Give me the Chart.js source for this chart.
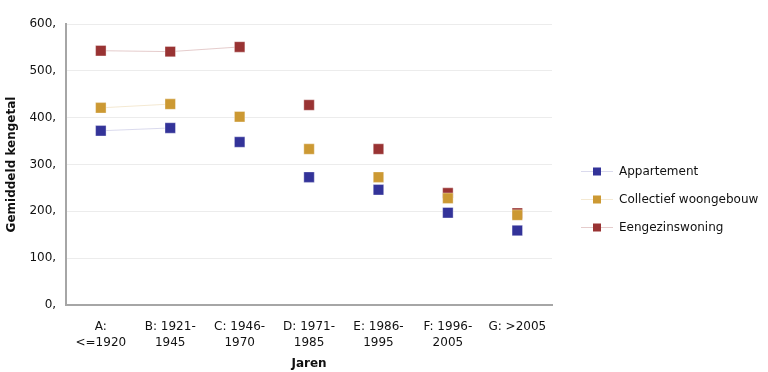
<!DOCTYPE html>
<html>
<head>
  <meta charset="UTF-8">
  <title>Gemiddeld kengetal per bouwperiode</title>
  <script src="https://cdn.jsdelivr.net/npm/chart.js"></script>
  <style>
    body { margin: 0; background: #fff; }
  </style>
</head>
<body>
  <canvas id="kengetalChart" width="768" height="372"></canvas>

  <script>
    // bouwperiodes
    const categories = [
      ['A:', '<=1920'], ['B: 1921-', '1945'], ['C: 1946-', '1970'],
      ['D: 1971-', '1985'], ['E: 1986-', '1995'], ['F: 1996-', '2005'], ['G: >2005']
    ];
    const appartement = [372, 378, 348, 273, 246, 197, 159];
    const collectief = [421, 429, 402, 333, 273, 228, 192];
    const eengezins = [543, 541, 551, 427, 333, 239, 196];
    const yTicks = [0, 100, 200, 300, 400, 500, 600];

    const font = 'DejaVu Sans';

    // alleen de eerste punten zijn verbonden
    function lineUpTo(color, lastIdx) {
      return { borderColor: ctx => ctx.p1DataIndex <= lastIdx ? color : 'rgba(0,0,0,0)' };
    }

    function serie(label, data, mark, line, lastIdx) {
      return {
        label: label,
        data: data,
        borderColor: line,
        borderWidth: 1,
        backgroundColor: mark,
        pointStyle: 'rect',
        pointRadius: 7.4,
        pointHoverRadius: 7.4,
        pointBackgroundColor: mark,
        pointBorderColor: 'rgba(255,255,255,0.35)',
        pointBorderWidth: 1,
        segment: lineUpTo(line, lastIdx),
        tension: 0
      };
    }

    const legendPlugin = {
      id: 'sideLegend',
      afterDraw(chart) {
        const c = chart.ctx;
        c.save();
        c.font = '12px "' + font + '"';
        c.textBaseline = 'middle';
        chart.data.datasets.forEach((ds, i) => {
          const y = 171 + i * 28;
          c.strokeStyle = ds.borderColor;
          c.lineWidth = 1;
          c.beginPath();
          c.moveTo(581, y + 0.5);
          c.lineTo(613, y + 0.5);
          c.stroke();
          c.fillStyle = ds.backgroundColor;
          c.fillRect(593, y - 3.5, 8, 8);
          c.fillStyle = '#111';
          c.fillText(ds.label, 619, y + 1);
        });
        c.restore();
      }
    };

    const ctx = document.getElementById('kengetalChart').getContext('2d');
    new Chart(ctx, {
      type: 'line',
      data: {
        labels: categories,
        datasets: [
          serie('Appartement', appartement, '#333399', 'rgba(51,51,153,0.18)', 1),
          serie('Collectief woongebouw', collectief, '#cc9933', 'rgba(204,153,51,0.22)', 1),
          serie('Eengezinswoning', eengezins, '#993333', 'rgba(153,51,51,0.25)', 2)
        ]
      },
      options: {
        responsive: false,
        animation: false,
        layout: { padding: { top: 24, right: 216, bottom: 0, left: 0 } },
        plugins: {
          legend: { display: false },
          tooltip: { enabled: false }
        },
        scales: {
          x: {
            offset: true,
            grid: { display: false, drawTicks: false },
            border: { color: '#a6a6a6', width: 2 },
            ticks: { color: '#111', font: { family: font, size: 12, lineHeight: 1.4 }, padding: 13, maxRotation: 0 },
            title: { display: true, text: 'Jaren', color: '#111', font: { family: font, size: 12, weight: 'bold' }, padding: { top: -8, bottom: 1 } }
          },
          y: {
            min: 0,
            max: 600,
            afterBuildTicks: axis => { axis.ticks = yTicks.map(v => ({ value: v })); },
            grid: { color: '#ececec', drawTicks: false },
            border: { color: '#a6a6a6', width: 2 },
            ticks: { color: '#111', font: { family: font, size: 12 }, padding: 10, callback: v => v + ',' },
            title: { display: true, text: 'Gemiddeld kengetal', color: '#111', font: { family: font, size: 12, weight: 'bold' }, padding: { top: 5, bottom: 0 } }
          }
        }
      },
      plugins: [legendPlugin]
    });
  </script>
</body>
</html>
